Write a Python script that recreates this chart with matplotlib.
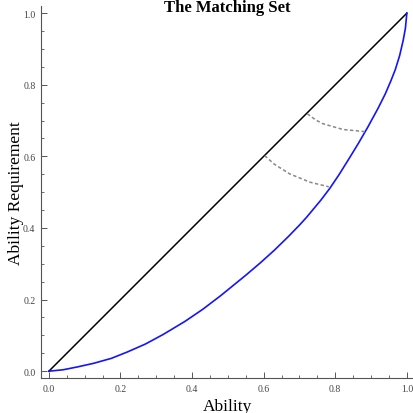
import numpy as np
import matplotlib
matplotlib.use('Agg')
import matplotlib.pyplot as plt
from matplotlib.ticker import MultipleLocator

# diagonal (ability = requirement)
diag_x = [0.0, 1.0]
diag_y = [0.0, 1.0]

# blue boundary curve
curve_x = [0.0, 0.04, 0.08, 0.125, 0.175, 0.22, 0.27, 0.32, 0.38, 0.43, 0.48, 0.55, 0.59, 0.63,
           0.67, 0.70, 0.72, 0.76, 0.785, 0.81, 0.84, 0.865, 0.89, 0.92, 0.94, 0.955, 0.968,
           0.98, 0.99, 0.996, 1.0]
curve_y = [0.0, 0.004, 0.012, 0.022, 0.036, 0.054, 0.076, 0.103, 0.139, 0.173, 0.211, 0.268, 0.302, 0.338,
           0.377, 0.408, 0.430, 0.478, 0.511, 0.548, 0.596, 0.637, 0.680, 0.735, 0.775, 0.81, 0.843,
           0.882, 0.925, 0.958, 1.0]

# dashed matching arcs
arc1_x = [0.603, 0.63, 0.673, 0.729, 0.782]
arc1_y = [0.602, 0.578, 0.551, 0.528, 0.515]
arc2_x = [0.722, 0.745, 0.766, 0.822, 0.885]
arc2_y = [0.719, 0.702, 0.691, 0.675, 0.669]

plt.rcParams['font.family'] = ['Liberation Serif', 'DejaVu Serif']

fig = plt.figure(figsize=(4.14, 4.14), dpi=100)
ax = fig.add_axes([41/414, 35/414, 373/414, 372/414])

ax.plot(diag_x, diag_y, color='black', lw=1.1)
ax.plot(curve_x, curve_y, color='#1414ff', lw=1.2)
ax.plot(arc1_x, arc1_y, color='#888888', lw=1.1, ls=(0, (2.2, 1.6)))
ax.plot(arc2_x, arc2_y, color='#888888', lw=1.1, ls=(0, (2.2, 1.6)))

ax.set_xlim(-0.022, 1.02)
ax.set_ylim(-0.019, 1.02)

for s in ['top', 'right']:
    ax.spines[s].set_visible(False)
for s in ['left', 'bottom']:
    ax.spines[s].set_color('#555555')
    ax.spines[s].set_linewidth(0.8)

ax.xaxis.set_major_locator(MultipleLocator(0.2))
ax.xaxis.set_minor_locator(MultipleLocator(0.05))
ax.yaxis.set_major_locator(MultipleLocator(0.2))
ax.yaxis.set_minor_locator(MultipleLocator(0.05))
ax.xaxis.set_major_formatter(plt.FormatStrFormatter('%.1f'))
ax.yaxis.set_major_formatter(plt.FormatStrFormatter('%.1f'))
ax.tick_params(which='major', direction='in', length=4, width=0.7, color='#555555',
               labelsize=7, labelcolor='#444444', pad=4)
ax.tick_params(which='minor', direction='in', length=2.2, width=0.6, color='#555555')

ax.set_xlabel('Ability', fontsize=12.5, labelpad=4)
ax.set_ylabel('Ability Requirement', fontsize=12.5)
ax.yaxis.set_label_coords(-25/373, 0.5)
ax.yaxis.label.set_va('center')

fig.text(227.5/414, 1 - 12/414, 'The Matching Set', fontsize=12, fontweight='bold',
         ha='center', va='baseline')

fig.savefig('out.png', dpi=100)
